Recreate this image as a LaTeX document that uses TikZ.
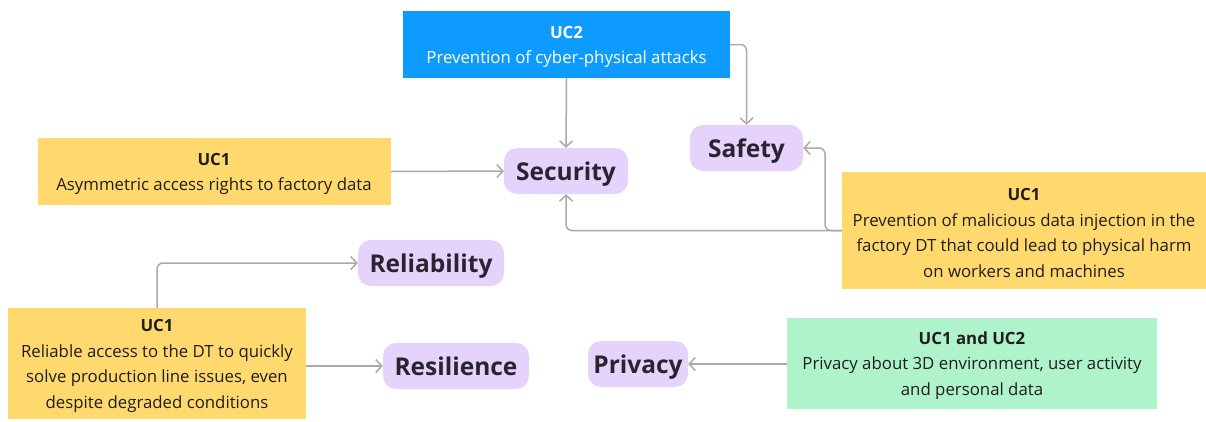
\documentclass[tikz,border=0pt]{standalone}
\usepackage{fontspec}
\setmainfont{Open Sans}
\usetikzlibrary{arrows.meta}
\definecolor{ucyellow}{HTML}{FFD86E}
\definecolor{ucblue}{HTML}{0E9BFF}
\definecolor{ucgreen}{HTML}{AFF3CA}
\definecolor{attrfill}{HTML}{E5D3FC}
\definecolor{attrtext}{HTML}{2A2431}
\definecolor{bodytext}{HTML}{1E1E1E}
\definecolor{linkgray}{HTML}{AAAAAA}
% bold heading line of a use-case box, with extra room above it
\newcommand\casehead[1]{\rule{0pt}{17pt}\textbf{#1}}
\tikzset{
  casebox/.style={rectangle, inner sep=0pt, align=center, text=bodytext,
    font=\fontsize{16.8}{25.5}\selectfont},
  attr/.style={rectangle, rounded corners=13pt, fill=attrfill, text=attrtext,
    inner sep=0pt, minimum height=46pt, text height=18pt, text depth=0pt,
    font=\fontsize{24.5}{28}\selectfont\bfseries},
  link/.style={draw=linkgray, line width=1.5pt, rounded corners=6pt,
    -{Straight Barb[length=6pt,width=13pt,line width=1.5pt]}}
}
\begin{document}
\begin{tikzpicture}[x=1pt,y=-1pt]
\useasboundingbox (0,0) rectangle (1206,421);
\fill[white] (0,0) rectangle (1206,421);

% use-case boxes
\node[casebox, fill=ucblue, text=white, minimum width=327pt, minimum height=67pt]
  (uc2) at (566.5,44.5) {\casehead{UC2}\\Prevention of cyber-physical attacks};
\node[casebox, fill=ucyellow, minimum width=353pt, minimum height=67pt]
  (asym) at (214,171.5) {\casehead{UC1}\\Asymmetric access rights to factory data};
\node[casebox, fill=ucyellow, minimum width=364pt, minimum height=117pt]
  (inject) at (1024,230.5) {\casehead{UC1}\\Prevention of malicious data injection in the\\factory DT that could lead to physical harm\\on workers and machines};
\node[casebox, fill=ucyellow, minimum width=298pt, minimum height=111pt]
  (reliable) at (157,363.5) {\casehead{UC1}\\Reliable access to the DT to quickly\\solve production line issues, even\\despite degraded conditions};
\node[casebox, fill=ucgreen, minimum width=370pt, minimum height=91pt]
  (priv) at (972,363.5) {\casehead{UC1 and UC2}\\Privacy about 3D environment, user activity\\and personal data};

% quality attributes
\node[attr, minimum width=124pt] (sec) at (566,171) {Security};
\node[attr, minimum width=113pt] (saf) at (746.5,148) {Safety};
\node[attr, minimum width=146pt] (rel) at (431,263) {Reliability};
\node[attr, minimum width=146pt] (res) at (456,366) {Resilience};
\node[attr, minimum width=100pt] (pri) at (638,364) {Privacy};

% connectors
\coordinate (split) at (825,230.5);
\draw[link] (uc2.south) -- (sec.north);
\draw[link] (uc2.east) -| (saf.north);
\draw[link] (asym.east) -- (sec.west);
\draw[link] (inject.west) -- (split) |- (saf.east);
\draw[link] (inject.west) -| (sec.south);
\draw[link] (reliable.north) |- (rel.west);
\draw[link] (reliable.east |- res.west) -- (res.west);
\draw[link] (priv.west |- pri.east) -- (pri.east);
\end{tikzpicture}
\end{document}
